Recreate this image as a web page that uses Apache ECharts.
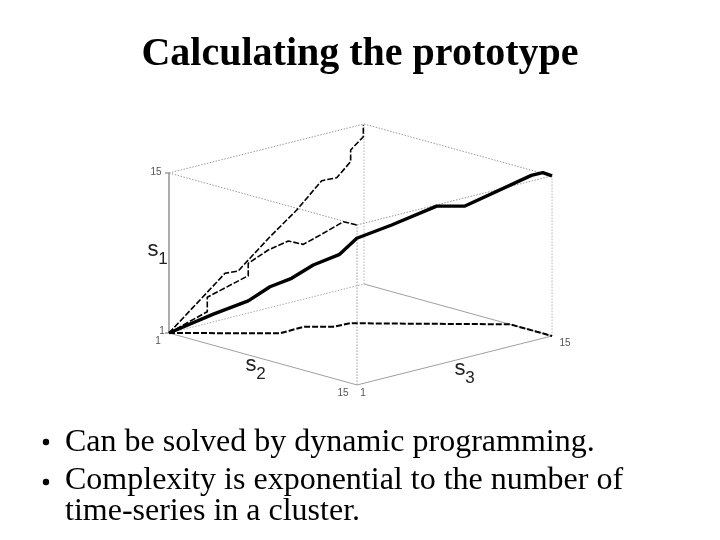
<!DOCTYPE html>
<html><head><meta charset="utf-8">
<style>html,body{margin:0;padding:0;background:#fff}#c{width:720px;height:540px}</style>
<script src="https://cdn.jsdelivr.net/npm/echarts@6/dist/echarts.min.js"></script>
</head><body><div id="c"></div>
<script>
// Warping path in (s1,s2,s3) coordinates
const pathS1 = [1,2.66,3.83,5.07,5.52,6.4,7.22,8.44,9.62,11.3,11.32,14.55,15.06,15];
const pathS2 = [1,2.59,3.84,4.62,4.92,5.23,5.98,6.29,7.56,9.2,10.23,13.46,14.31,15];
const pathS3 = [1,2.65,3.95,4.76,6.02,7.28,8.45,9.38,10.66,12.31,13.35,15,15,15];
// Projection on s1 = 1
const floorS2 = [1,4.98,4.9,5.94,6.05,6.26,11.87,15];
const floorS3 = [1,5.13,6.91,8.03,9.12,9.35,15,15];
// Projection on s2 = 1
const backS1 = [1,4.99,4.9,5.64,7.2,8.95,10.97,10.9,12,13.02,13.9,14.93];
const backS3 = [1,5.02,5.97,6.69,8.25,10.17,11.96,13.04,14.04,14.04,14.95,14.95];
// Projection on s3 = 1
const sideS1 = [1,3.79,5.05,7.93,9.01,10.66,11.93,12,13.45,14.95,14.99];
const sideS2 = [1,3.85,3.85,6.9,6.9,8.39,9.88,11,12.49,13.98,14.98];
const axisMin = 1, axisMax = 15;
const tickLabels = ['1','15'];
const titleText = 'Calculating the prototype';
const bulletLines = ['Can be solved by dynamic programming.','Complexity is exponential to the number of','time-series in a cluster.'];

// Axonometric projection of the cube onto the page
const O=[169,333], E1=[0,-11.43], E2=[13.43,3.71], E3=[13.93,-3.5];
const proj=(a,b,c)=>[O[0]+(a-1)*E1[0]+(b-1)*E2[0]+(c-1)*E3[0], O[1]+(a-1)*E1[1]+(b-1)*E2[1]+(c-1)*E3[1]];
const L=axisMin,H=axisMax;
const edge=(p,q,color,type,w)=>({type:'line',data:[proj(...p),proj(...q)],symbol:'none',silent:true,clip:false,
  lineStyle:{color,type,width:w}});
const DOT=[1.5,1.5], G='#9a9a9a';
const edges=[
 edge([L,L,L],[H,L,L],'#777','solid',1.2),
 edge([L,H,L],[H,H,L],G,DOT,1),
 edge([L,L,H],[H,L,H],'#b5b5b5',DOT,1),
 edge([L,H,H],[H,H,H],'#b5b5b5',DOT,1),
 edge([L,L,L],[L,H,L],'#a0a0a0','solid',1),
 edge([L,H,L],[L,H,H],'#a0a0a0','solid',1),
 edge([L,L,L],[L,L,H],'#aaa',DOT,1),
 edge([L,L,H],[L,H,H],'#a0a0a0','solid',1),
 edge([H,L,L],[H,H,L],G,DOT,1),
 edge([H,L,L],[H,L,H],G,DOT,1),
 edge([H,H,L],[H,H,H],G,DOT,1),
 edge([H,L,H],[H,H,H],G,DOT,1),
 edge([H,L,L],[H,0.86,0.85],'#777','solid',1),
 edge([L,L,L],[L,0.86,0.85],'#777','solid',1),
];
const curve=(pts,w,type)=>({type:'line',data:pts,symbol:'none',silent:true,clip:false,
  lineStyle:{color:'#000',width:w,type,cap:'butt',join:'round'}});
const curves=[
 curve(floorS2.map((v,i)=>proj(L,v,floorS3[i])),2,[6,2]),
 curve(backS1.map((v,i)=>proj(v,L,backS3[i])),1.6,[6,2]),
 curve(sideS1.map((v,i)=>proj(v,sideS2[i],L)),1.6,[6,2]),
 curve(pathS1.map((v,i)=>proj(v,pathS2[i],pathS3[i])),3.4,'solid'),
];
const serif='"Liberation Serif","Times New Roman",serif', sans='"Liberation Sans",Arial,sans-serif';
const txt=(x,y,text,size,extra)=>({type:'text',x,y,silent:true,style:Object.assign({text,fill:'#000',font:size+'px '+serif,textVerticalAlign:'middle'},extra||{})});
const tick=(x,y,t)=>txt(x,y,t,10,{font:'10px '+sans,fill:'#555',textAlign:'center'});
const axisName=(x,y,n)=>[txt(x,y,'s',22,{font:'22px '+sans,fill:'#222',textAlign:'center'}),txt(x+10,y+9,n,17,{font:'17px '+sans,fill:'#222',textAlign:'center'})];
const chart=echarts.init(document.getElementById('c'),null,{renderer:'canvas'});
chart.setOption({
 animation:false,backgroundColor:'#fff',
 grid:{left:0,right:0,top:0,bottom:0},
 xAxis:{type:'value',min:0,max:720,show:false},
 yAxis:{type:'value',min:0,max:540,inverse:true,show:false},
 series:[...edges,...curves],
 graphic:[
  txt(360,55,titleText,40,{font:'bold 40px '+serif,textAlign:'center'}),
  {type:'circle',shape:{cx:46,cy:442,r:3.2},style:{fill:'#000'},silent:true},
  {type:'circle',shape:{cx:46,cy:482,r:3.2},style:{fill:'#000'},silent:true},
  txt(65,443,bulletLines[0],32),
  txt(65,481,bulletLines[1],32),
  txt(65,512,bulletLines[2],32),
  tick(156,172,tickLabels[1]),tick(162,331,tickLabels[0]),tick(158,341,tickLabels[0]),
  tick(343,393,tickLabels[1]),tick(363,393,tickLabels[0]),tick(565,343,tickLabels[1]),
  ...axisName(153,250,'1'),...axisName(251,365,'2'),...axisName(460,369,'3'),
 ]
});
</script></body></html>
